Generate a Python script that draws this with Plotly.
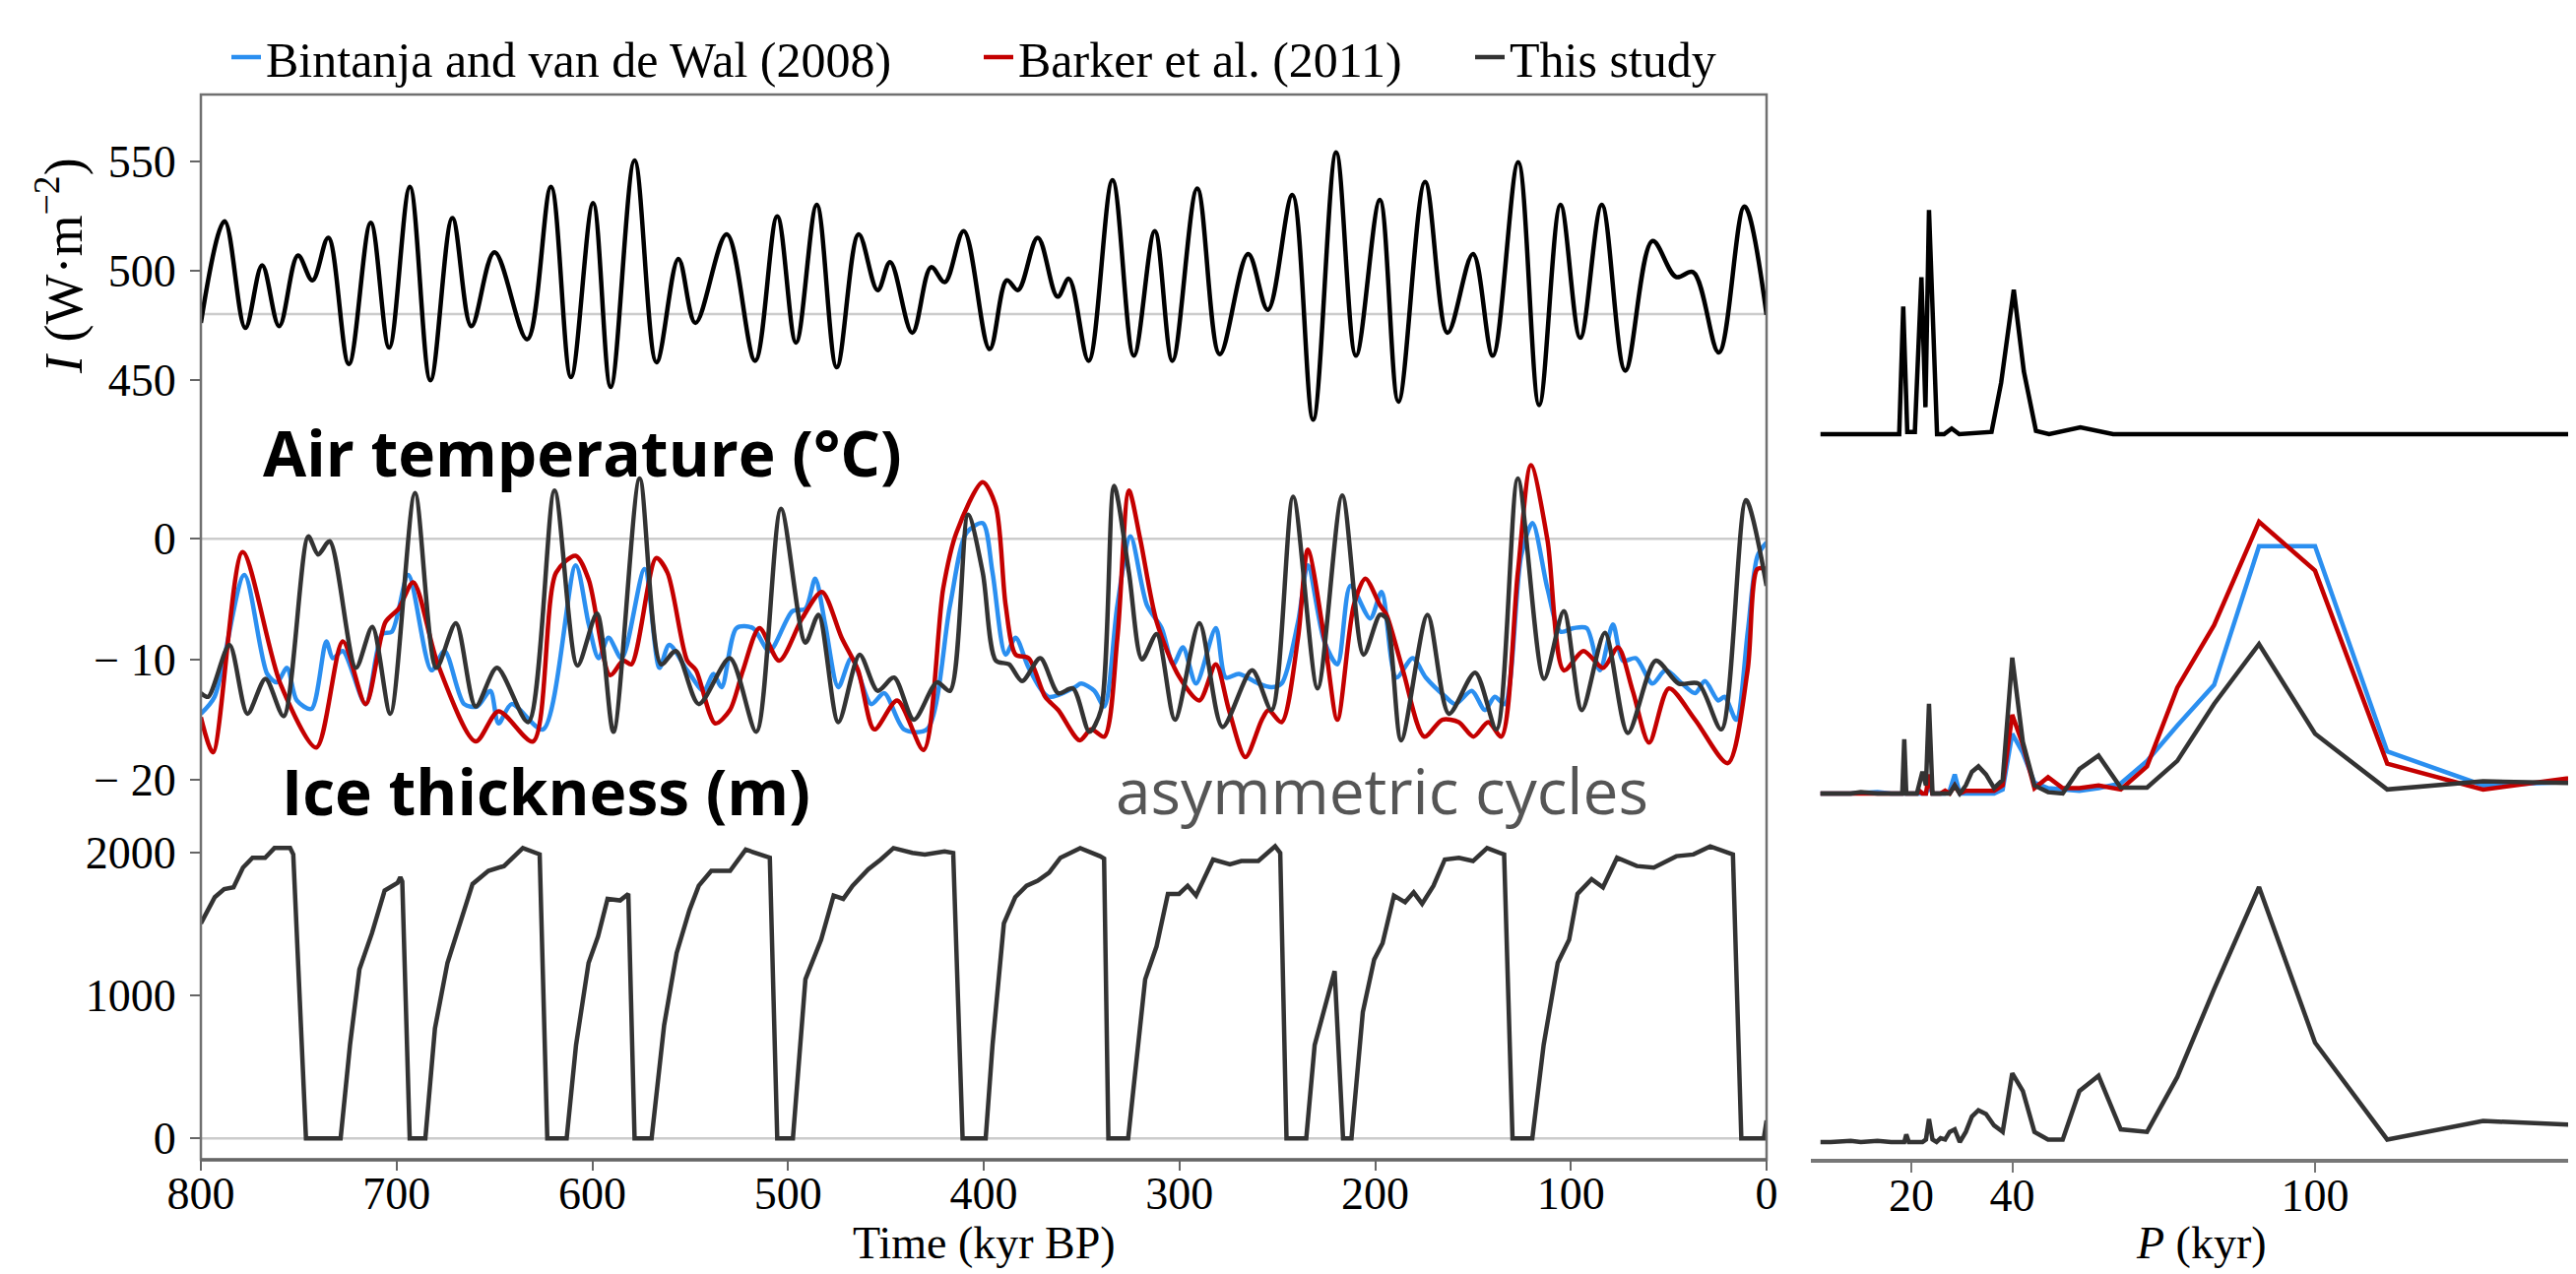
import plotly.graph_objects as go

W, H = 2616, 1294

# ---------------- data: insolation (kyr BP, W m-2) ----------------
INS_TIME = [800, 787.9, 777.3, 768.7, 760, 750.4, 743, 734.9, 724.4, 713.2, 703.8, 693.2, 682.7,
            671.5, 661.8, 650, 633.3, 621.1, 610.9, 599.6, 590.6, 578.4, 567.2, 556, 547.3, 531.3,
            516.8, 505.5, 495.9, 485.3, 475.1, 463.9, 454.2, 447.8, 436.5, 426.9, 419.9, 410.2, 397,
            388.2, 382.5, 372.4, 362.3, 356.5, 346.4, 334.2, 323.3, 312.6, 303.6, 290.9, 279.4, 264.9,
            254.8, 242.3, 231.7, 219.9, 209.8, 197.6, 188.1, 174.5, 163, 150, 139.9, 126.9, 116.2,
            105.3, 95.2, 84.2, 72.2, 58.3, 46.2, 37.5, 24.4, 11.3, 0]
INS_VAL = [476, 522.5, 473.7, 502.3, 474.5, 506.8, 495.5, 515, 457.2, 521.8, 464.7, 538.3, 449.7,
           524, 474.5, 508.3, 468.5, 538.3, 451.2, 530.8, 446.7, 550.3, 458, 505.3, 476, 516.5,
           458.7, 524.8, 467, 530, 455.7, 516.5, 491, 503.8, 471.5, 501.5, 494.7, 518, 464,
           495.5, 491, 515, 488, 496.2, 458.7, 541.3, 461, 518, 458.7, 537.5, 461.7, 507.5,
           482, 534.5, 431.7, 554, 461, 532.3, 440, 540.5, 471.5, 507.5, 461, 549.5, 438.4,
           530, 469.2, 530, 454.2, 513.5, 497, 499.2, 462.5, 529.3, 479.7]

# ---------------- data: air temperature (degC) ----------------
BIN_TIME = [800, 793.0, 777.8, 766.1, 761.1, 756.0, 751.0, 743.5, 735.9, 732.6, 727.5, 715.8, 707.4,
            702.4, 694.0, 682.2, 675.5, 665.5, 658.8, 652.1, 647.9, 641.2, 625.2, 608.5, 601.8, 596.8,
            591.7, 585.0, 573.3, 565.7, 560.7, 551.5, 543.1, 538.1, 533.9, 526.3, 517.9, 509.5, 497.8,
            491.1, 486.1, 481.0, 474.3, 467.6, 457.5, 450.8, 440.7, 429.0, 417.2, 408.8, 400.5, 395.5,
            388.8, 383.7, 377.0, 366.9, 353.5, 350.2, 343.5, 338.4, 331.7, 325.0, 316.6, 309.1, 303.2,
            298.2, 291.5, 281.4, 276.3, 269.6, 259.6, 252.9, 247.8, 239.4, 234.4, 226.0, 219.3, 212.6,
            202.5, 196.7, 189.2, 180.8, 174.1, 164.0, 159.0, 150.6, 143.9, 138.9, 133.8, 125.4, 119.6,
            112.0, 105.3, 98.6, 91.9, 85.2, 78.5, 73.4, 66.7, 58.3, 51.6, 43.2, 36.5, 31.5, 24.7, 21.4,
            15.5, 9.6, 4.6, 0]
BIN_VAL = [-14.5, -13.1, -3.0, -11.2, -11.9, -10.7, -13.4, -14.1, -8.5, -9.9, -9.3, -13.7, -7.9,
           -7.7, -3.0, -10.9, -9.3, -13.7, -13.9, -12.6, -15.3, -13.7, -15.8, -2.2, -7.1, -9.9,
           -8.2, -9.9, -2.5, -10.7, -8.8, -10.9, -12.6, -11.2, -12.3, -7.4, -7.4, -9.3, -6.0,
           -5.8, -3.3, -7.1, -12.3, -9.9, -13.7, -12.8, -15.8, -15.8, -5.5, 0.5, 1.3, -2.8,
           -9.6, -8.2, -10.7, -13.1, -12.3, -12.0, -12.6, -13.9, -5.5, 0.2, -5.5, -7.4, -10.4,
           -9.0, -12.0, -7.4, -11.5, -11.2, -12.0, -12.3, -12.0, -6.9, -2.2, -8.5, -10.4, -3.9,
           -6.6, -4.4, -11.5, -9.9, -11.5, -13.1, -13.7, -12.6, -14.2, -13.1, -13.7, -1.4, 1.3,
           -4.1, -7.7, -7.4, -7.4, -10.9, -7.1, -10.1, -9.9, -12.0, -10.9, -12.0, -12.8, -11.8, -13.4, -13.1,
           -15.0, -7.7, -1.4, -0.3]

BAR_TIME = [800, 793.8, 778.7, 759.4, 741.0, 727.5, 715.8, 705.7, 699.0, 691.5, 678.9, 659.6, 647.9,
            630.3, 618.5, 608.5, 601.8, 590.9, 584.2, 580.0, 567.4, 561.6, 551.5, 547.0, 537.2, 529.7,
            523.0, 514.6, 504.5, 492.8, 482.7, 472.6, 464.2, 455.9, 444.2, 430.7, 420.7, 414.0, 400.5,
            393.8, 388.8, 383.7, 377.0, 368.6, 361.9, 351.0, 345.1, 338.4, 331.7, 325.8, 320.0, 311.6,
            299.9, 289.8, 281.4, 274.7, 266.3, 257.9, 254.5, 247.8, 239.4, 234.4, 226.0, 219.3, 210.9,
            205.0, 197.5, 194.2, 185.8, 174.9, 165.7, 157.3, 149.8, 142.2, 135.5, 127.1, 120.4, 112.0,
            103.6, 93.6, 83.5, 75.9, 68.4, 60.0, 49.9, 36.5, 19.8, 9.7, 4.7, 0]
BAR_VAL = [-14.8, -17.7, -1.1, -12.0, -17.3, -8.5, -13.7, -6.9, -5.8, -3.6, -10.4, -16.8, -14.3,
           -16.8, -2.8, -1.4, -3.4, -11.3, -10.1, -10.4, -1.6, -2.8, -10.1, -10.9, -15.3, -14.2,
           -10.9, -7.4, -10.1, -6.6, -4.4, -8.2, -10.9, -15.8, -13.4, -17.5, -4.1, 0.5, 4.7,
           2.7, -5.5, -9.6, -9.9, -13.1, -14.2, -16.7, -15.8, -16.4, -8.2, 4.0, -0.05, -6.9,
           -11.5, -13.4, -10.4, -14.2, -18.1, -15.0, -14.2, -15.2, -8.2, -0.9, -8.2, -15.0, -5.5,
           -3.3, -5.5, -6.3, -10.9, -16.4, -15.0, -15.2, -16.4, -15.2, -16.4, -2.8, 6.1, -0.05,
           -10.9, -9.3, -10.7, -9.0, -12.6, -16.9, -12.4, -15.0, -18.6, -10.9, -2.5, -2.5]

THIS_TIME = [800, 796.3, 785.4, 776.2, 767.0, 757.7, 745.1, 740.1, 734.2, 720.8, 712.4, 703.2, 690.6,
             679.7, 669.7, 659.6, 648.7, 632.8, 619.3, 607.6, 597.6, 589.2, 575.8, 564.9, 557.3, 545.6,
             529.7, 516.2, 503.6, 491.1, 484.4, 474.3, 463.4, 454.2, 445.8, 435.7, 423.9, 417.2, 408.0,
             400.5, 393.8, 387.1, 380.4, 371.1, 361.9, 354.4, 346.0, 340.1, 333.4, 325.8, 319.1, 311.6,
             302.3, 289.8, 278.0, 262.9, 252.9, 241.9, 229.4, 216.8, 205.9, 197.5, 194.2, 186.7, 173.2,
             162.3, 148.9, 138.0, 127.1, 113.7, 103.6, 94.4, 82.6, 70.9, 56.6, 44.9, 34.8, 23.1, 10.5, 0]
THIS_VAL = [-12.8, -13.1, -8.8, -14.5, -11.6, -14.7, 0.2, -1.3, -0.2, -10.7, -7.3, -14.5, 3.8,
            -10.7, -7.0, -13.9, -10.7, -15.2, 4.0, -10.5, -6.2, -16.0, 5.0, -10.4, -9.3, -13.7,
            -9.9, -16.0, 2.5, -8.6, -6.3, -15.2, -9.6, -12.6, -11.5, -15.0, -11.9, -12.6, 2.0,
            -2.8, -10.1, -10.4, -11.8, -9.9, -12.8, -12.4, -16.0, -14.2, 4.4, -2.8, -10.0, -7.9,
            -15.0, -7.0, -15.6, -10.9, -14.2, 3.5, -12.4, 3.6, -9.6, -6.3, -6.6, -16.7, -6.3,
            -14.5, -11.1, -15.8, 5.0, -11.6, -6.0, -14.2, -7.8, -16.1, -10.1, -12.0, -12.0, -15.8, 3.2, -3.9]

# ---------------- data: ice thickness (m) ----------------
ICE_TIME = [800, 792.9, 788.1, 783.3, 778.5, 773.6, 767.2, 762.4, 754.4, 752.8, 746.3, 728.6, 723.8,
            719.0, 712.6, 706.1, 699.5, 698.1, 697.1, 693.3, 685.3, 680.4, 674.0, 667.6, 661.2, 653.1,
            645.1, 635.5, 628.5, 626.9, 623.0, 613.1, 608.3, 601.9, 597.1, 592.2, 585.8, 581.6, 578.4,
            569.7, 563.3, 556.9, 550.4, 545.6, 539.2, 529.6, 521.6, 511.0, 509.3, 505.5, 497.5, 491.1,
            483.1, 476.7, 471.8, 467.0, 459.0, 452.6, 446.1, 436.5, 430.1, 420.0, 415.6, 410.8, 399.0,
            395.5, 389.7, 383.9, 378.1, 372.4, 366.6, 360.8, 350.7, 340.6, 338.5, 336.3, 326.2, 317.5,
            311.7, 305.9, 300.2, 295.8, 291.5, 282.8, 274.2, 268.4, 259.7, 251.1, 248.5, 245.3, 235.2,
            230.9, 225.1, 220.7, 216.4, 212.1, 206.3, 200.5, 196.2, 190.4, 184.7, 180.3, 176.0, 170.2,
            164.4, 157.2, 150.0, 142.8, 134.1, 129.8, 119.7, 113.9, 106.7, 100.9, 96.6, 89.4, 83.6,
            76.4, 66.3, 57.6, 46.1, 37.4, 28.8, 17.2, 12.9, 1.4, 0]
ICE_VAL = [1506, 1690, 1747, 1759, 1897, 1966, 1966, 2034, 2034, 1990, 0, 0, 655,
           1184, 1437, 1736, 1790, 1830, 1800, 0, 0, 770, 1230, 1506, 1782, 1874,
           1908, 2034, 2000, 1990, 0, 0, 655, 1230, 1414, 1678, 1667, 1713, 0,
           0, 793, 1299, 1598, 1770, 1874, 1874, 2023, 1980, 1966, 0, 0, 1115,
           1391, 1701, 1678, 1770, 1885, 1954, 2034, 2000, 1989, 2011, 2000, 0, 0,
           655, 1506, 1690, 1770, 1805, 1862, 1966, 2034, 1977, 1960, 0, 0, 1115,
           1345, 1713, 1713, 1770, 1701, 1954, 1920, 1943, 1943, 2046, 2000, 0, 0,
           655, 954, 1172, 0, 0, 885, 1253, 1368, 1701, 1655, 1724, 1644, 1770,
           1954, 1966, 1943, 2034, 1989, 0, 0, 655, 1230, 1391, 1713, 1816, 1759,
           1966, 1908, 1897, 1977, 1989, 2046, 1989, 0, 0, 126]

# ---------------- data: power spectra (normalised power vs period, kyr) ----------------
PERIODS = [160.0, 133.3, 114.3, 100.0, 88.9, 80.0, 72.7, 66.7, 61.5, 57.1, 53.3, 50.0, 47.1, 44.4,
           42.1, 40.0, 38.1, 36.4, 34.8, 33.3, 32.0, 30.8, 29.6, 28.6, 27.6, 26.7, 25.8, 25.0, 24.2,
           23.5, 22.9, 22.2, 21.6, 21.1, 20.5, 20.0, 19.5, 19.0, 18.6, 18.2, 17.8, 16.0, 13.3, 10.0,
           8.0, 5.3, 4.0, 2.7, 2.0]
SPEC_T_BIN = [0.05, 0.03, 0.155, 0.91, 0.91, 0.40, 0.25, 0.12, 0.037, 0.02, 0.01, 0.015, 0.02, 0.04,
              0.15, 0.22, 0.015, 0.0, 0.0, 0.0, 0.0, 0.0, 0.0, 0.07, 0.01, 0.0, 0.0, 0.0, 0.0,
              0.03, 0.0, 0.0, 0.0, 0.0, 0.0, 0.0, 0.0, 0.0, 0.02, 0.0, 0.0, 0.0, 0.005, 0.0,
              0.0, 0.0, 0.0, 0.0, 0.0]
SPEC_T_BAR = [0.08, 0.015, 0.11, 0.82, 1.0, 0.62, 0.39, 0.10, 0.015, 0.03, 0.02, 0.02, 0.06, 0.02,
              0.18, 0.29, 0.03, 0.01, 0.01, 0.01, 0.01, 0.01, 0.0, 0.03, 0.0, 0.01, 0.0, 0.0, 0.0,
              0.07, 0.0, 0.0, 0.01, 0.0, 0.0, 0.0, 0.0, 0.0, 0.01, 0.0, 0.0, 0.0, 0.0, 0.0,
              0.0, 0.0, 0.0, 0.0, 0.0]
SPEC_T_THIS = [0.035, 0.045, 0.015, 0.22, 0.55, 0.33, 0.12, 0.022, 0.022, 0.14, 0.09, 0.0, 0.005, 0.03,
               0.19, 0.50, 0.05, 0.02, 0.07, 0.10, 0.08, 0.03, 0.0, 0.03, 0.0, 0.0, 0.0, 0.0, 0.0,
               0.33, 0.03, 0.08, 0.04, 0.0, 0.0, 0.0, 0.0, 0.0, 0.20, 0.0, 0.0, 0.0, 0.0, 0.005,
               0.0, 0.0, 0.0, 0.0, 0.0]
SPEC_ICE = [0.06, 0.083, 0.01, 0.39, 1.0, 0.60, 0.255, 0.04, 0.05, 0.26, 0.20, 0.01, 0.01, 0.04,
            0.20, 0.27, 0.04, 0.065, 0.11, 0.125, 0.10, 0.04, 0.0, 0.05, 0.04, 0.01, 0.015, 0.0, 0.01,
            0.09, 0.01, 0.0, 0.0, 0.0, 0.0, 0.0, 0.0, 0.03, 0.0, 0.0, 0.0, 0.0, 0.005, 0.0,
            0.005, 0.0, 0.0, 0.0, 0.0]
SPEC_INS_P = [2.0, 10.0, 17.6, 18.4, 19.2, 20.7, 22.0, 22.8, 23.5, 25.1, 26.5, 28.0, 29.5, 35.9,
              37.8, 40.3, 42.3, 44.7, 47.3, 53.5, 60.0, 160.0]
SPEC_INS = [0.0, 0.0, 0.0, 0.57, 0.01, 0.01, 0.70, 0.12, 1.0, 0.0, 0.0, 0.025, 0.0, 0.01,
            0.23, 0.645, 0.28, 0.015, 0.0, 0.03, 0.0, 0.0]

X_TICKS = [800, 700, 600, 500, 400, 300, 200, 100, 0]
P_TICKS = [20, 40, 100]
INS_TICKS = [450, 500, 550]
T_TICKS = [0, -10, -20]
T_TICKTEXT = ["0", "\u2212 10", "\u2212 20"]
ICE_TICKS = [0, 1000, 2000]
INS_MEAN = 480

# ---------------- colours / styles ----------------
BLUE = "#2b8ff0"
RED = "#c40000"
DARK = "#333333"
BLACK = "#000000"
LW = 4.5
SERIF = "Liberation Serif"


def px(p):
    return p / W


def py(p):
    return 1 - p / H


def rng(top_px, bot_px, v_a, p_a, v_b, p_b):
    s = (v_b - v_a) / (p_b - p_a)
    return [v_a + (bot_px - p_a) * s, v_a + (top_px - p_a) * s]


fig = go.Figure()

# left panel series
fig.add_trace(go.Scatter(x=INS_TIME, y=INS_VAL, mode="lines", xaxis="x", yaxis="y",
                         line=dict(color=BLACK, width=LW, shape="spline", smoothing=1.0),
                         showlegend=False, hoverinfo="skip"))
fig.add_trace(go.Scatter(x=BIN_TIME, y=BIN_VAL, mode="lines", xaxis="x", yaxis="y2",
                         name="Bintanja and van de Wal (2008)", legend="legend",
                         line=dict(color=BLUE, width=LW, shape="spline", smoothing=0.8)))
fig.add_trace(go.Scatter(x=BAR_TIME, y=BAR_VAL, mode="lines", xaxis="x", yaxis="y2",
                         name="Barker et al. (2011)", legend="legend2",
                         line=dict(color=RED, width=LW, shape="spline", smoothing=0.8)))
fig.add_trace(go.Scatter(x=THIS_TIME, y=THIS_VAL, mode="lines", xaxis="x", yaxis="y2",
                         name="This study", legend="legend3",
                         line=dict(color=DARK, width=LW, shape="spline", smoothing=0.8)))
fig.add_trace(go.Scatter(x=ICE_TIME, y=ICE_VAL, mode="lines", xaxis="x", yaxis="y3",
                         line=dict(color=DARK, width=LW), showlegend=False))

# right panel spectra
fig.add_trace(go.Scatter(x=SPEC_INS_P, y=SPEC_INS, mode="lines", xaxis="x2", yaxis="y4",
                         line=dict(color=BLACK, width=LW), showlegend=False))
fig.add_trace(go.Scatter(x=PERIODS, y=SPEC_T_BIN, mode="lines", xaxis="x2", yaxis="y5",
                         line=dict(color=BLUE, width=LW), showlegend=False))
fig.add_trace(go.Scatter(x=PERIODS, y=SPEC_T_BAR, mode="lines", xaxis="x2", yaxis="y5",
                         line=dict(color=RED, width=LW), showlegend=False))
fig.add_trace(go.Scatter(x=PERIODS, y=SPEC_T_THIS, mode="lines", xaxis="x2", yaxis="y5",
                         line=dict(color=DARK, width=LW), showlegend=False))
fig.add_trace(go.Scatter(x=PERIODS, y=SPEC_ICE, mode="lines", xaxis="x2", yaxis="y6",
                         line=dict(color=DARK, width=LW), showlegend=False))

tickfont = dict(family=SERIF, size=46, color="black")
common_y = dict(showgrid=False, zeroline=False, ticks="outside", ticklen=10, tickwidth=2,
                tickcolor="#666", tickfont=tickfont, showline=False, anchor="x",
                automargin=False, ticklabelstandoff=5)

L0, L1 = 196, 1786
TOP, B1, B2, BOT = 88, 440, 830, 1170
legfont = dict(family=SERIF, size=50, color="black")

fig.update_layout(
    width=W, height=H,
    margin=dict(l=0, r=0, t=0, b=0, autoexpand=False),
    paper_bgcolor="white", plot_bgcolor="white",
    xaxis=dict(domain=[px(L0), px(L1)], range=[800, 0], anchor="y3", tickvals=X_TICKS,
               ticks="outside", ticklen=10, tickwidth=2, tickcolor="#666", tickfont=tickfont,
               showgrid=False, zeroline=False, showline=False, automargin=False,
               ticklabelstandoff=-16),
    yaxis=dict(domain=[py(B1), py(TOP)], range=rng(TOP, B1, 500, 266.7, 550, 155.7),
               tickvals=INS_TICKS, **common_y),
    yaxis2=dict(domain=[py(B2), py(B1)], range=rng(B1, B2, 0, 539.3, -10, 661.8),
                tickvals=T_TICKS, ticktext=T_TICKTEXT, **common_y),
    yaxis3=dict(domain=[py(BOT), py(B2)], range=rng(B2, BOT, 0, 1148.3, 2000, 858.3),
                tickvals=ICE_TICKS, **common_y),
    xaxis2=dict(domain=[px(1830.5), 1.0], range=[0, (W - 1830.5) / 5.125], anchor="y6",
                tickvals=P_TICKS, ticks="outside", ticklen=10, tickwidth=2, tickcolor="#777",
                tickfont=tickfont, showgrid=False, zeroline=False, automargin=False,
                showline=True, linecolor="#777", linewidth=3.5, ticklabelstandoff=-16),
    yaxis4=dict(domain=[py(440), py(150)], range=rng(150, 440, 0, 433, 1, 205.4), anchor="x2",
                visible=False, automargin=False),
    yaxis5=dict(domain=[py(830), py(450)], range=rng(450, 830, 0, 798, 1, 522), anchor="x2",
                visible=False, automargin=False),
    yaxis6=dict(domain=[py(1169), py(840)], range=rng(840, 1169, 0, 1152, 1, 893), anchor="x2",
                visible=False, automargin=False),
    legend=dict(x=px(222), y=py(50), xanchor="left", yanchor="middle", orientation="h",
                font=legfont, bgcolor="rgba(0,0,0,0)"),
    legend2=dict(x=px(986), y=py(50), xanchor="left", yanchor="middle", orientation="h",
                 font=legfont, bgcolor="rgba(0,0,0,0)"),
    legend3=dict(x=px(1485), y=py(50), xanchor="left", yanchor="middle", orientation="h",
                 font=legfont, bgcolor="rgba(0,0,0,0)"),
)

# reference lines and frame
shapes = [
    dict(type="line", xref="x", yref="y", x0=800, x1=0, y0=INS_MEAN, y1=INS_MEAN,
         line=dict(color="#cccccc", width=2.5), layer="below"),
    dict(type="line", xref="x", yref="y2", x0=800, x1=0, y0=0, y1=0,
         line=dict(color="#cccccc", width=2.5), layer="below"),
    dict(type="line", xref="x", yref="y3", x0=800, x1=0, y0=0, y1=0,
         line=dict(color="#cccccc", width=2.5), layer="below"),
    dict(type="rect", xref="paper", yref="paper", x0=px(L0), x1=px(L1), y0=py(BOT), y1=py(TOP),
         line=dict(color="#707070", width=2.5)),
    dict(type="line", xref="paper", yref="paper", x0=px(L0), x1=px(L1), y0=py(BOT), y1=py(BOT),
         line=dict(color="#666666", width=3.5)),
]
fig.update_layout(shapes=shapes)

annotations = [
    dict(text="<b>Air temperature (°C)</b>", x=px(583), y=py(452), xref="paper", yref="paper",
         showarrow=False, xanchor="center", yanchor="middle",
         font=dict(family="Open Sans", size=64, color="black")),
    dict(text="<b>Ice thickness (m)</b>", x=px(546), y=py(795), xref="paper", yref="paper",
         showarrow=False, xanchor="center", yanchor="middle",
         font=dict(family="Open Sans", size=64, color="black")),
    dict(text="asymmetric cycles", x=px(1395), y=py(794), xref="paper", yref="paper",
         showarrow=False, xanchor="center", yanchor="middle",
         font=dict(family="Open Sans", size=64, color="#555555")),
    dict(text="Time (kyr BP)", x=px(991), y=py(1254), xref="paper", yref="paper",
         showarrow=False, xanchor="center", yanchor="middle", font=tickfont),
    dict(text="<i>P</i> (kyr)", x=px(2227), y=py(1254), xref="paper", yref="paper",
         showarrow=False, xanchor="center", yanchor="middle", font=tickfont),
    dict(text="<i>I</i> (W·m<sup>−2</sup>)", x=px(52), y=py(262), xref="paper", yref="paper",
         showarrow=False, xanchor="center", yanchor="middle", textangle=-90,
         font=dict(family=SERIF, size=54, color="black")),
]
fig.update_layout(annotations=annotations)

fig.write_html("out.html")
